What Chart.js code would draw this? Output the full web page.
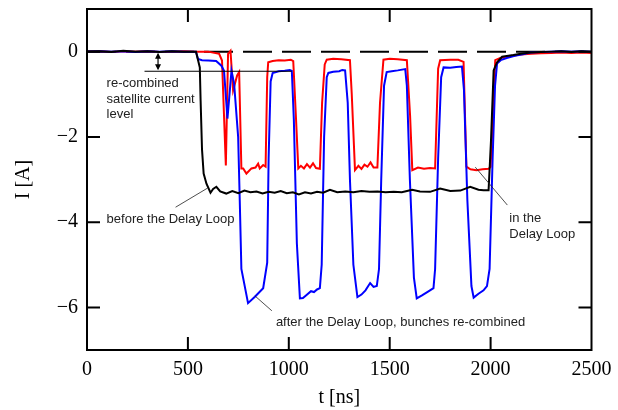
<!DOCTYPE html>
<html>
<head>
<meta charset="utf-8">
<script src="https://cdn.jsdelivr.net/npm/chart.js@4.4.1/dist/chart.umd.min.js"></script>
<style>html,body{margin:0;background:#fff}canvas{display:block}</style>
</head>
<body>
<canvas id="chart" width="618" height="410"></canvas>
<script>
// axis ticks
const xTicks = [0, 500, 1000, 1500, 2000, 2500];
const yTicks = [-6, -4, -2, 0];

// before the delay loop (black)
const tBlack = [0, 60, 120, 180, 240, 300, 360, 420, 480, 540, 559, 563, 570, 578, 592, 612, 625, 641, 660, 690,
  720, 750, 780, 810, 840, 870, 900, 930, 960, 990, 1020, 1050, 1080, 1110, 1140, 1170, 1204, 1240, 1280, 1320,
  1360, 1400, 1440, 1480, 1520, 1560, 1611, 1650, 1700, 1750, 1800, 1850, 1899, 1940, 1965, 1990, 2002, 2015, 2032, 2057,
  2080, 2113, 2150, 2197, 2250, 2300, 2350, 2400, 2450, 2500];
const iBlack = [0, 0.01, -0.01, 0.02, 0, 0.01, -0.01, 0.01, 0, 0, -0.37, -1.15, -2.3, -2.86, -3.1, -3.31, -3.22, -3.17, -3.28, -3.33,
  -3.27, -3.32, -3.26, -3.3, -3.28, -3.33, -3.29, -3.31, -3.27, -3.32, -3.3, -3.35, -3.3, -3.33, -3.29, -3.31, -3.24, -3.3, -3.28, -3.3,
  -3.27, -3.29, -3.28, -3.3, -3.29, -3.3, -3.24, -3.28, -3.29, -3.21, -3.27, -3.26, -3.17, -3.24, -3.25, -3.25, -2.08, -0.44, -0.25, -0.12,
  -0.1, -0.08, -0.05, -0.02, -0.01, 0, 0.01, -0.01, 0.01, 0];

// after the delay loop, bunches re-combined (blue)
const tBlue = [0, 60, 120, 180, 240, 300, 360, 420, 480, 540, 550, 570, 600, 640, 666, 679, 696, 716, 729, 749,
  757, 765, 798, 832, 873, 893, 900, 910, 920, 950, 980, 1005, 1015, 1025, 1040, 1055, 1070, 1085, 1110, 1125,
  1140, 1154, 1163, 1175, 1188, 1196, 1220, 1250, 1265, 1279, 1292, 1303, 1320, 1340, 1360, 1380, 1403, 1420, 1436, 1447,
  1458, 1472, 1485, 1510, 1540, 1577, 1585, 1600, 1620, 1634, 1660, 1690, 1717, 1725, 1740, 1755, 1767, 1800, 1830, 1858,
  1868, 1885, 1905, 1916, 1940, 1965, 1982, 1995, 2010, 2022, 2032, 2050, 2080, 2120, 2160, 2197, 2250, 2300, 2350, 2400,
  2450, 2500];
const iBlue = [0, 0.01, 0, 0.01, -0.01, 0.01, 0, 0.01, 0, 0, -0.17, -0.2, -0.21, -0.22, -0.33, -0.45, -1.57, -0.45, -0.75, -2.0,
  -3.5, -5.1, -5.9, -5.75, -5.55, -4.95, -2.5, -0.7, -0.5, -0.46, -0.45, -0.43, -0.45, -1.6, -4.5, -5.79, -5.78, -5.72, -5.62, -5.64,
  -5.58, -5.55, -5.0, -2.0, -0.6, -0.5, -0.47, -0.46, -0.43, -0.44, -1.2, -3.0, -5.0, -5.76, -5.7, -5.6, -5.43, -5.52, -5.5, -5.1,
  -3.0, -0.8, -0.48, -0.46, -0.44, -0.41, -0.8, -3.0, -5.3, -5.79, -5.72, -5.63, -5.55, -5.1, -2.5, -0.6, -0.37, -0.38, -0.36, -0.35,
  -0.9, -3.5, -5.5, -5.77, -5.68, -5.6, -5.5, -5.1, -2.5, -0.8, -0.28, -0.2, -0.15, -0.1, -0.06, -0.02, -0.01, 0, 0.01, 0,
  0.01, 0];

// in the delay loop (red)
const tRed = [0, 60, 120, 180, 240, 300, 360, 420, 480, 540, 600, 655, 669, 688, 699, 711, 724, 744, 754, 765,
  774, 790, 815, 835, 848, 856, 873, 885, 893, 898, 920, 950, 980, 1010, 1022, 1035, 1047, 1060, 1075, 1090,
  1105, 1120, 1135, 1154, 1165, 1178, 1188, 1220, 1260, 1303, 1312, 1328, 1345, 1360, 1375, 1390, 1405, 1420, 1439, 1452,
  1469, 1500, 1540, 1585, 1601, 1612, 1640, 1670, 1700, 1725, 1740, 1750, 1800, 1840, 1866, 1880, 1900, 1930, 1960, 1990,
  2000, 2012, 2023, 2048, 2100, 2150, 2200, 2250, 2300, 2350, 2400, 2450, 2500];
const iRed = [0, 0.01, -0.01, 0.01, 0, 0.01, -0.01, 0, 0.01, 0, 0, -0.05, -0.21, -2.67, -0.05, 0.02, -0.91, -0.56, -0.48, -2.74,
  -2.74, -2.86, -2.74, -2.72, -2.63, -2.74, -2.66, -2.7, -0.6, -0.25, -0.22, -0.2, -0.21, -0.19, -0.22, -1.5, -2.74, -2.68, -2.74, -2.64,
  -2.72, -2.62, -2.73, -2.75, -1.2, -0.3, -0.19, -0.17, -0.18, -0.2, -1.0, -2.78, -2.68, -2.75, -2.65, -2.7, -2.6, -2.72, -2.72, -1.2,
  -0.19, -0.17, -0.18, -0.2, -1.5, -2.78, -2.72, -2.75, -2.73, -2.74, -0.4, -0.2, -0.19, -0.19, -0.24, -2.7, -2.76, -2.78, -2.76, -2.75,
  -2.7, -1.5, -0.2, -0.15, -0.1, -0.07, -0.05, -0.04, -0.03, -0.02, -0.03, -0.02, -0.03];

// re-combined satellite level marker (data units)
const satLevel = -0.46, satFrom = 285, satTo = 1014, arrowAt = 352;

// labels and leader lines, in data units
const notes = [
  { text: "re-combined", x: 97, y: -0.75 },
  { text: "satellite current", x: 97, y: -1.12 },
  { text: "level", x: 97, y: -1.47 },
  { text: "before the Delay Loop", x: 97, y: -3.93 },
  { text: "in the", x: 2093, y: -3.91 },
  { text: "Delay Loop", x: 2093, y: -4.28 },
  { text: "after the Delay Loop, bunches re-combined", x: 936, y: -6.36 },
];
const leaders = [
  [439, -3.65, 598, -3.2],
  [1924, -2.71, 2083, -3.6],
  [832, -5.73, 916, -6.08],
];

const pts = (t, v) => t.map((x, i) => ({ x, y: v[i] }));
const fmt = (v) => (v < 0 ? "\u2212" + Math.abs(v) : String(v));
const serif = "'Liberation Serif', 'Times New Roman', serif";

const decor = {
  id: "decor",
  beforeDatasetsDraw(chart) {
    const { ctx, chartArea: a, scales: { y } } = chart;
    const y0 = y.getPixelForValue(0);
    ctx.save();
    ctx.strokeStyle = "#000"; ctx.lineWidth = 2;
    ctx.setLineDash([29, 10]);
    ctx.beginPath(); ctx.moveTo(a.left, y0); ctx.lineTo(a.right, y0); ctx.stroke();
    ctx.restore();
  },
  afterDatasetsDraw(chart) {
    const { ctx, chartArea: a, scales: { x, y } } = chart;
    ctx.save();
    ctx.strokeStyle = "#000"; ctx.lineWidth = 2;
    ctx.strokeRect(a.left, a.top, a.right - a.left, a.bottom - a.top);
    // inward ticks on all four sides
    ctx.beginPath();
    xTicks.slice(1, -1).forEach((v) => {
      const px = x.getPixelForValue(v);
      ctx.moveTo(px, a.top); ctx.lineTo(px, a.top + 13);
      ctx.moveTo(px, a.bottom); ctx.lineTo(px, a.bottom - 13);
    });
    yTicks.forEach((v) => {
      const py = y.getPixelForValue(v);
      ctx.moveTo(a.left, py); ctx.lineTo(a.left + 13, py);
      ctx.moveTo(a.right, py); ctx.lineTo(a.right - 13, py);
    });
    ctx.stroke();

    // satellite level line + double arrow
    ctx.lineWidth = 1.2;
    const ys = y.getPixelForValue(satLevel), y0 = y.getPixelForValue(0), xa = x.getPixelForValue(arrowAt);
    ctx.beginPath();
    ctx.moveTo(x.getPixelForValue(satFrom), ys); ctx.lineTo(x.getPixelForValue(satTo), ys);
    ctx.moveTo(xa, y0 + 3); ctx.lineTo(xa, ys - 3);
    ctx.stroke();
    ctx.fillStyle = "#000";
    ctx.beginPath();
    ctx.moveTo(xa, y0 + 1); ctx.lineTo(xa - 3, y0 + 7); ctx.lineTo(xa + 3, y0 + 7); ctx.closePath();
    ctx.moveTo(xa, ys - 1); ctx.lineTo(xa - 3, ys - 7); ctx.lineTo(xa + 3, ys - 7); ctx.closePath();
    ctx.fill();

    // leader lines
    ctx.lineWidth = 0.8; ctx.strokeStyle = "#222";
    ctx.beginPath();
    leaders.forEach(([x1, y1, x2, y2]) => {
      ctx.moveTo(x.getPixelForValue(x1), y.getPixelForValue(y1));
      ctx.lineTo(x.getPixelForValue(x2), y.getPixelForValue(y2));
    });
    ctx.stroke();

    // notes
    ctx.fillStyle = "#222";
    ctx.font = "13px 'Liberation Sans', Arial, sans-serif";
    ctx.textBaseline = "middle"; ctx.textAlign = "left";
    notes.forEach((n) => ctx.fillText(n.text, x.getPixelForValue(n.x), y.getPixelForValue(n.y)));
    ctx.restore();
  },
};

new Chart(document.getElementById("chart"), {
  type: "line",
  data: {
    datasets: [
      { label: "before the Delay Loop", data: pts(tBlack, iBlack), borderColor: "#000", borderWidth: 2, pointRadius: 0, tension: 0 },
      { label: "after the Delay Loop", data: pts(tBlue, iBlue), borderColor: "#0000ff", borderWidth: 2, pointRadius: 0, tension: 0 },
      { label: "in the Delay Loop", data: pts(tRed, iRed), borderColor: "#ff0000", borderWidth: 2, pointRadius: 0, tension: 0 },
    ],
  },
  options: {
    responsive: false, animation: false, devicePixelRatio: 1,
    layout: { padding: { top: 9, right: 26.5, left: 0, bottom: 0 } },
    plugins: { legend: { display: false }, tooltip: { enabled: false } },
    scales: {
      x: {
        type: "linear", min: 0, max: 2500,
        grid: { display: false, drawTicks: false }, border: { display: false },
        afterBuildTicks: (s) => { s.ticks = xTicks.map((v) => ({ value: v })); },
        afterFit: (s) => { s.height = 60; s.paddingLeft = 0; s.paddingRight = 0; },
        ticks: { font: { family: serif, size: 20 }, color: "#000", padding: 8, maxRotation: 0, callback: fmt },
        title: { display: true, text: "t [ns]", font: { family: serif, size: 20 }, color: "#000", padding: { top: 0, bottom: 0 } },
      },
      y: {
        type: "linear", min: -7, max: 1,
        grid: { display: false, drawTicks: false }, border: { display: false },
        afterBuildTicks: (s) => { s.ticks = yTicks.map((v) => ({ value: v })); },
        afterFit: (s) => { s.width = 87; s.paddingTop = 0; s.paddingBottom = 0; },
        ticks: { font: { family: serif, size: 20 }, color: "#000", padding: 9, callback: fmt },
        title: { display: true, text: "I [A]", font: { family: serif, size: 20 }, color: "#000", padding: { top: 12, bottom: 0 } },
      },
    },
  },
  plugins: [decor],
});
</script>
</body>
</html>
